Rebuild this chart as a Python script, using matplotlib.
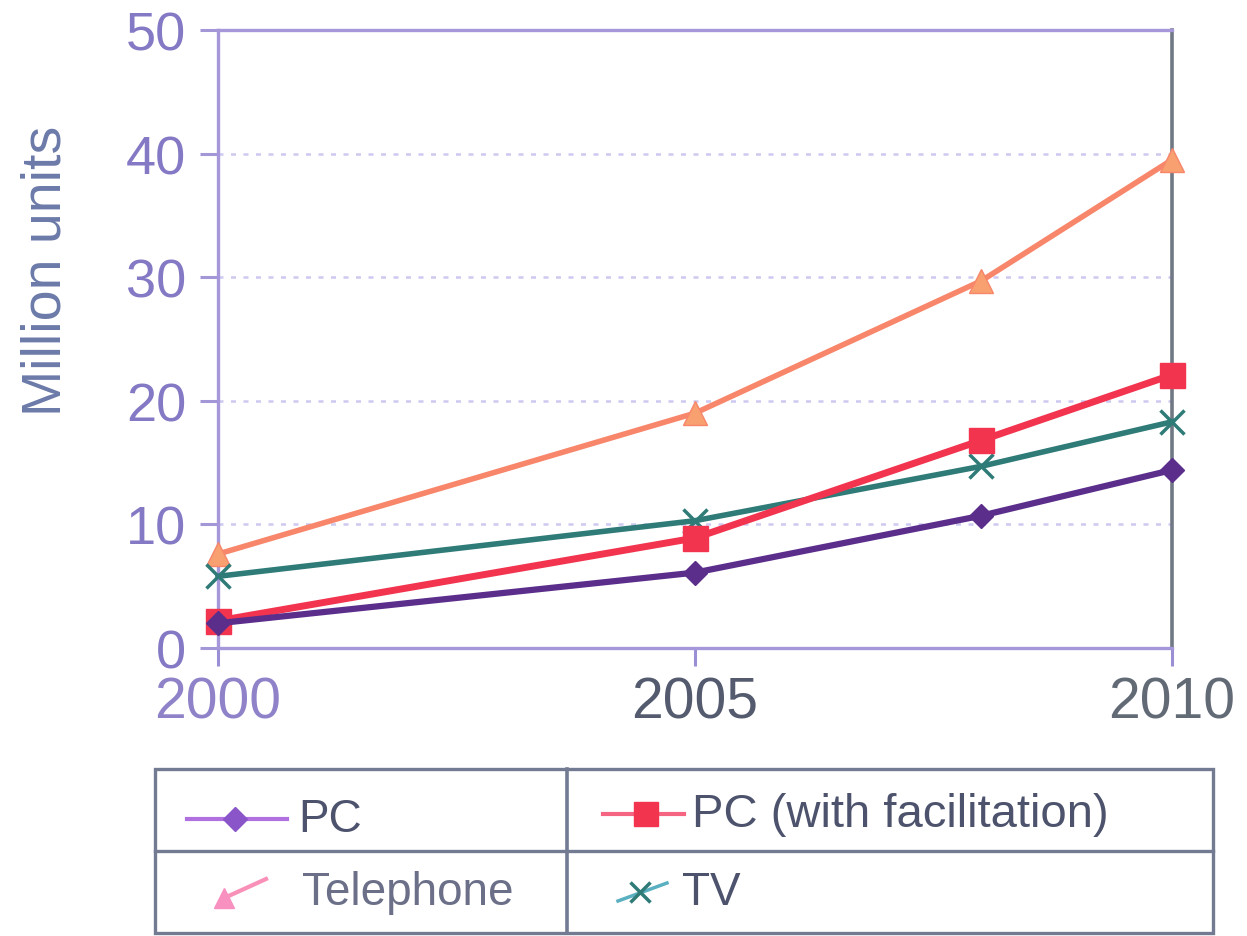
import matplotlib
matplotlib.use("Agg")
import matplotlib.pyplot as plt
from matplotlib.patches import Rectangle

plt.rcParams['font.family'] = ['Liberation Sans', 'DejaVu Sans']

# Data (million units)
years = [2000, 2005, 2008, 2010]
pc = [2.0, 6.1, 10.7, 14.4]
pc_facilitation = [2.2, 8.9, 16.8, 22.1]
telephone = [7.6, 19.0, 29.7, 39.5]
tv = [5.8, 10.3, 14.7, 18.3]

x_ticks = [2000, 2005, 2010]
y_ticks = [0, 10, 20, 30, 40, 50]

series_labels = ["PC", "PC (with facilitation)", "Telephone", "TV"]
colors = {
    "PC": "#5b2e8c",
    "PC (with facilitation)": "#f2344f",
    "Telephone": "#f7866a",
    "TV": "#2f7b78",
}

W, H = 1247, 937
fig = plt.figure(figsize=(W / 100, H / 100), dpi=100)

# Main plot area in pixel coordinates
left, right, top, bottom = 218, 1172, 31, 649
ax = fig.add_axes([left / W, 1 - bottom / H, (right - left) / W, (bottom - top) / H])

ax.plot(years, telephone, color=colors["Telephone"], lw=4.0, marker='^',
        ms=17, mec=colors["Telephone"], mfc="#f9a070", zorder=3, clip_on=False)
ax.plot(years, tv, color=colors["TV"], lw=4.0, marker='x', ms=17, mew=2.5,
        zorder=4, clip_on=False)
ax.plot(years, pc_facilitation, color=colors["PC (with facilitation)"], lw=5.0,
        marker='s', ms=18, zorder=5, clip_on=False)
ax.plot(years, pc, color=colors["PC"], lw=4.5, marker='D', ms=12, zorder=6,
        clip_on=False)

ax.set_xlim(2000, 2010)
ax.set_ylim(0, 50)
ax.set_xticks(x_ticks)
ax.set_yticks(y_ticks)
ax.set_xticklabels([str(t) for t in x_ticks])

for v in y_ticks[1:-1]:
    ax.axhline(v, color="#cdc9f0", lw=1.8, ls=(0, (2, 3)), zorder=1)

tick_col = "#8479c4"
ax.tick_params(axis='y', direction='out', length=13, width=2.2, colors="#a497d8",
               labelcolor=tick_col, labelsize=39, pad=10)
ax.tick_params(axis='x', direction='out', length=13, width=2.2, colors="#9a8fd4",
               labelsize=41, pad=7)
xcols = ["#8f82c8", "#555b6e", "#626a76"]
for lab, c in zip(ax.get_xticklabels(), xcols):
    lab.set_color(c)

for side in ["left", "top", "bottom"]:
    ax.spines[side].set_color("#a597da")
    ax.spines[side].set_linewidth(2.4)
ax.spines["right"].set_color("#6f7884")
ax.spines["right"].set_linewidth(2.6)

ax.set_ylabel("Million units", fontsize=40, color="#6b7aa8", va='center')
ax.yaxis.set_label_coords((47 - left) / (right - left), (bottom - 271) / (bottom - top))

# Legend table beneath the plot, drawn in pixel coordinates
lax = fig.add_axes([0, 0, 1, 1], zorder=10)
lax.set_xlim(0, W)
lax.set_ylim(H, 0)
lax.axis('off')

border = "#737b93"
lax.add_patch(Rectangle((155, 770), 1058, 164, fill=False, ec=border, lw=2.4))
lax.plot([567, 567], [770, 934], color=border, lw=2.6)
lax.plot([155, 1213], [852, 852], color=border, lw=2.4)

text_col = "#4d536c"
fs = 33

# Row 1
lax.plot([187, 287], [820, 820], color="#b070e0", lw=3)
lax.plot([235], [820], marker='D', ms=12, color="#8a55c8")
lax.text(298, 820, "PC", fontsize=fs, color=text_col, va='center', ha='left')

lax.plot([603, 684], [815, 815], color="#f56480", lw=3)
lax.plot([646], [815], marker='s', ms=17, color=colors["PC (with facilitation)"])
lax.text(692, 815, "PC (with facilitation)", fontsize=fs + 1, color=text_col,
         va='center', ha='left')

# Row 2
lax.plot([222, 266], [900, 880], color="#f890b8", lw=3)
lax.plot([224], [899], marker='^', ms=15, color="#f890c0")
lax.text(302, 893, "Telephone", fontsize=fs, color="#6b6f88", va='center', ha='left')

lax.plot([618, 667], [902, 884], color="#5ab0c0", lw=2.5)
lax.plot([640], [893], marker='x', ms=15, mew=2.5, color=colors["TV"])
lax.text(682, 893, "TV", fontsize=fs, color=text_col, va='center', ha='left')

fig.savefig("out.png", dpi=100)
